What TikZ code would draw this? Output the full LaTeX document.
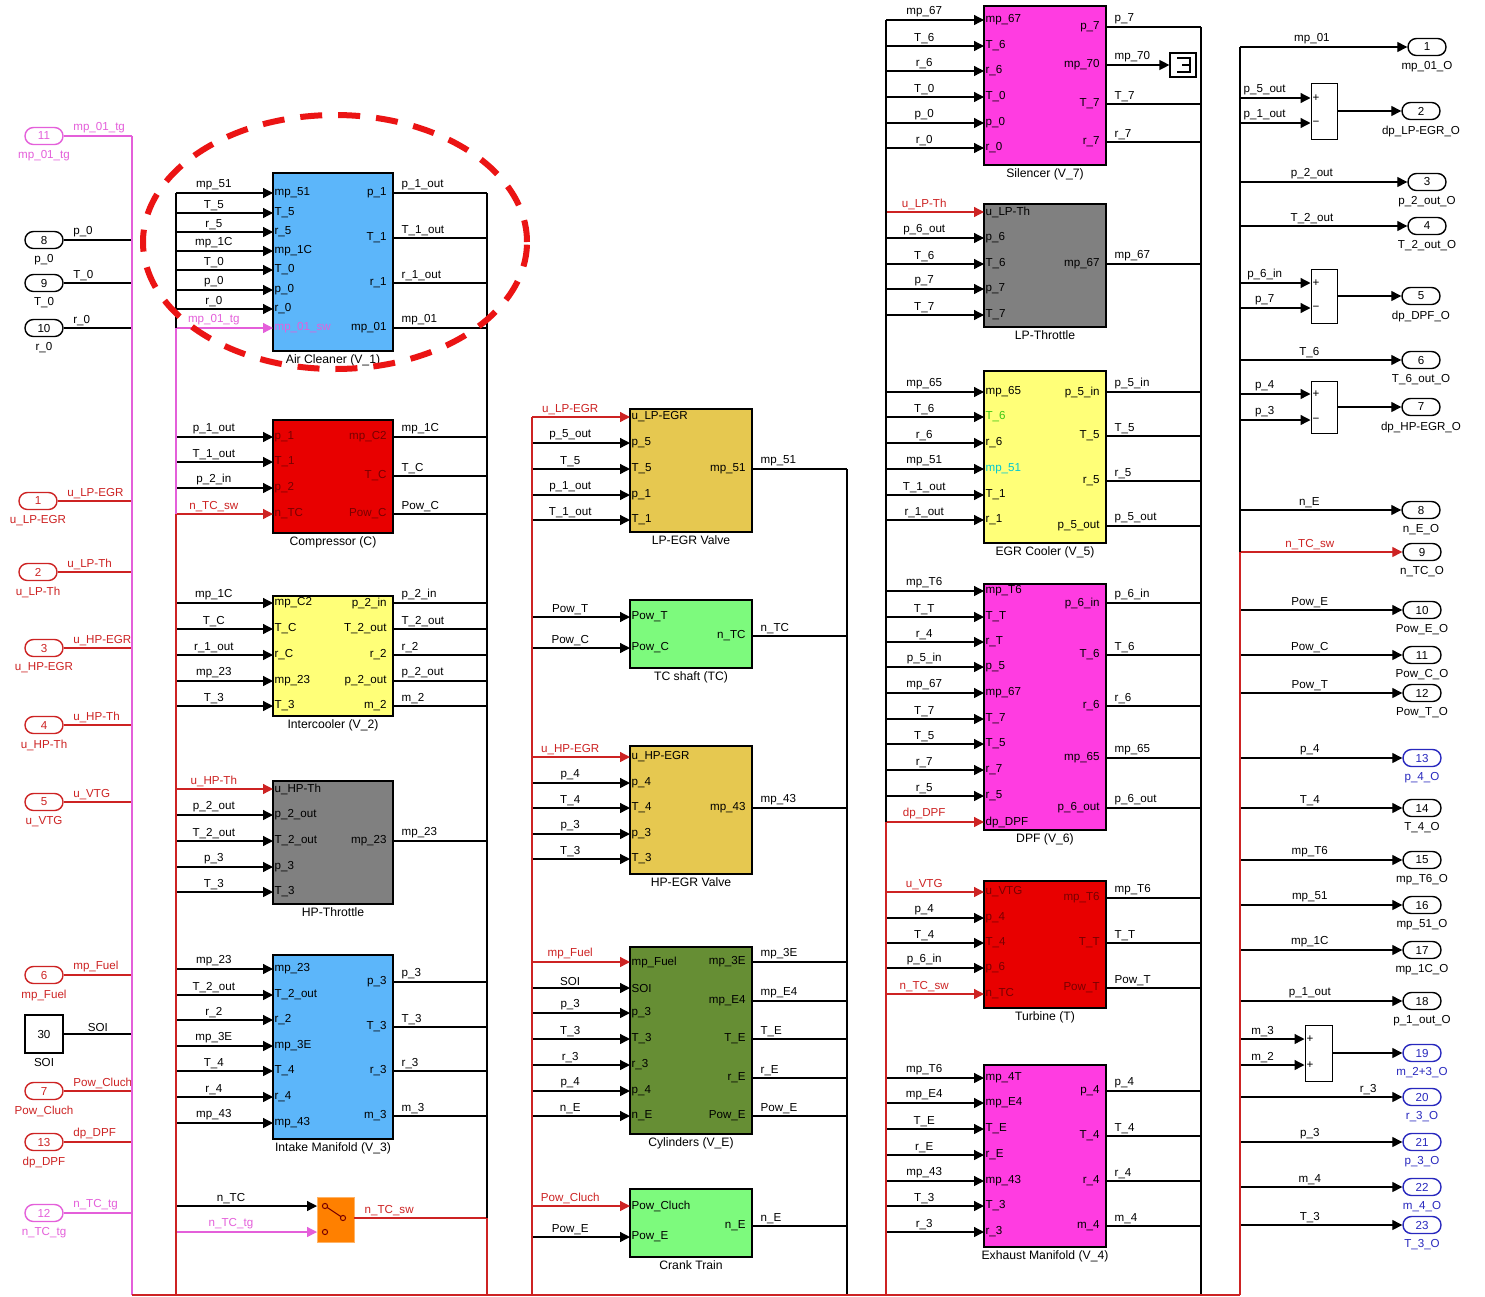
\documentclass[tikz,border=0pt]{standalone}
\usepackage{fontspec}
\setmainfont{Liberation Sans}
\usetikzlibrary{arrows.meta,positioning,fit}
\definecolor{SigRed}{RGB}{205,35,35}
\definecolor{SigPink}{RGB}{228,95,218}
\definecolor{PortBlue}{RGB}{40,40,190}
\definecolor{PinDark}{RGB}{120,0,0}
\definecolor{PinGreen}{RGB}{60,200,20}
\definecolor{PinCyan}{RGB}{0,200,210}
\definecolor{AirBlue}{RGB}{92,182,250}
\definecolor{CompRed}{RGB}{232,0,0}
\definecolor{CoolYellow}{RGB}{255,255,120}
\definecolor{ThrGray}{RGB}{128,128,128}
\definecolor{ValveGold}{RGB}{230,200,80}
\definecolor{ShaftGreen}{RGB}{125,250,125}
\definecolor{CylGreen}{RGB}{102,142,52}
\definecolor{VolMagenta}{RGB}{255,60,225}
\definecolor{SwOrange}{RGB}{255,128,0}
\definecolor{MarkRed}{RGB}{235,20,20}
\newcommand{\sigfont}{\fontsize{5.8}{6.5}\selectfont}
\newcommand{\titlefont}{\fontsize{6.1}{7}\selectfont}
\tikzset{
  blk/.style={draw=black,line width=0.75pt,inner sep=0pt},
  blktitle/.style={font=\titlefont,inner sep=1.3pt},
  constblk/.style={draw=black,fill=white,line width=0.6pt,minimum width=19pt,minimum height=19pt,inner sep=0pt,font=\sigfont},
  sumblk/.style={draw=black,fill=white,line width=0.5pt,inner sep=0pt},
  swblk/.style={draw=SwOrange!60!white,fill=SwOrange,line width=0.5pt,inner sep=0pt},
  sigline/.style={line width=0.65pt,-{Triangle[length=5pt,width=5pt]}},
  plainline/.style={line width=0.65pt,draw=black},
  redline/.style={line width=0.65pt,draw=SigRed},
  pinkline/.style={line width=0.65pt,draw=SigPink},
  siglabel/.style={font=\sigfont,above,inner sep=1pt,pos=0.39},
  outlabel/.style={font=\sigfont,anchor=south west,inner sep=1pt,xshift=3pt,pos=0},
  portlabel/.style={font=\sigfont,anchor=south west,inner sep=1pt,xshift=3.5pt,pos=0},
  pinleft/.style={font=\sigfont,anchor=west,inner sep=0.6pt},
  pinright/.style={font=\sigfont,anchor=east,inner sep=0.5pt,xshift=-2.5pt},
  port/.style={draw,rounded corners=4.2pt,minimum width=19pt,minimum height=8.5pt,inner sep=0pt,font=\sigfont,line width=0.7pt},
  portname/.style={font=\sigfont,inner sep=1pt},
  hilite/.style={draw=MarkRed,line width=3pt,dash pattern=on 11pt off 8pt}
}
% block inputs: bus x, block x, name, {y/pin/label/line colour/pin colour}
\newcommand{\blockin}[4]{%
  \foreach \py/\pn/\pl/\plc/\ppc in {#4} {
    \coordinate (#3-bus-\py) at (#1,\py);
    \coordinate (#3-in-\py) at (#2,\py);
    \draw[sigline,draw=\plc] (#3-bus-\py) -- node[siglabel,text=\plc]{\pl} (#3-in-\py);
    \node[pinleft,text=\ppc] at (#3-in-\py) {\pn};
  }}
% block outputs: block x, bus x, name, {y/pin/label/pin colour}
\newcommand{\blockout}[4]{%
  \foreach \py/\pn/\pl/\ppc in {#4} {
    \coordinate (#3-out-\py) at (#1,\py);
    \coordinate (#3-obus-\py) at (#2,\py);
    \draw[plainline] (#3-out-\py) -- node[outlabel]{\pl} (#3-obus-\py);
    \node[pinright,text=\ppc] at (#3-out-\py) {\pn};
  }}
% inport: name, x, y, number, signal, colour
\newcommand{\inport}[6]{%
  \node[port,draw=#6,text=#6] (#1) at (#2,#3) {#4};
  \node[portname,text=#6,below=1.5pt of #1] {#5};
  \coordinate (#1-bus) at (132,#3);
  \draw[line width=0.65pt,draw=#6] (#1) -- node[portlabel,text=#6]{#5} (#1-bus);
}
\begin{document}
\begin{tikzpicture}[x=0.5pt,y=-0.5pt]
\useasboundingbox (0,0) rectangle (1485,1297);
\fill[white] (0,0) rectangle (1485,1297);

% inports
\inport{in11}{44}{136}{11}{mp\_01\_tg}{SigPink}
\inport{in8}{44}{240}{8}{p\_0}{black}
\inport{in9}{44}{283}{9}{T\_0}{black}
\inport{in10}{44}{328}{10}{r\_0}{black}
\inport{in1}{38}{501}{1}{u\_LP-EGR}{SigRed}
\inport{in2}{38}{572}{2}{u\_LP-Th}{SigRed}
\inport{in3}{44}{648}{3}{u\_HP-EGR}{SigRed}
\inport{in4}{44}{725}{4}{u\_HP-Th}{SigRed}
\inport{in5}{44}{802}{5}{u\_VTG}{SigRed}
\inport{in6}{44}{975}{6}{mp\_Fuel}{SigRed}
\inport{in7}{44}{1091}{7}{Pow\_Cluch}{SigRed}
\inport{in13}{44}{1142}{13}{dp\_DPF}{SigRed}
\inport{in12}{44}{1213}{12}{n\_TC\_tg}{SigPink}
\node[constblk] (soi) at (44,1034) {30};
\node[portname,below=1pt of soi] {SOI};
\coordinate (soi-bus) at (132,1034);
\draw[plainline] (soi) -- node[above,font=\sigfont,inner sep=1pt]{SOI} (soi-bus);

% column 1
\node[blk,fill=AirBlue,fit={(273,173)(393,351)}] (ac) {};
\node[blktitle,below=0pt of ac] {Air Cleaner (V\_1)};
\blockin{176}{273}{ac}{193/mp\_51/mp\_51/black/black, 213/T\_5/T\_5/black/black, 232/r\_5/r\_5/black/black, 251/mp\_1C/mp\_1C/black/black, 270/T\_0/T\_0/black/black, 290/p\_0/p\_0/black/black, 309/r\_0/r\_0/black/black, 328/mp\_01\_sw/mp\_01\_tg/SigPink/SigPink}
\blockout{393}{487}{ac}{193/p\_1/p\_1\_out/black, 238/T\_1/T\_1\_out/black, 283/r\_1/r\_1\_out/black, 328/mp\_01/mp\_01/black}

\node[blk,fill=CompRed,fit={(273,420)(393,533)}] (cp) {};
\node[blktitle,below=0pt of cp] {Compressor (C)};
\blockin{176}{273}{cp}{437/p\_1/p\_1\_out/black/PinDark, 462/T\_1/T\_1\_out/black/PinDark, 488/p\_2/p\_2\_in/black/PinDark, 514/n\_TC/n\_TC\_sw/SigRed/PinDark}
\blockout{393}{487}{cp}{437/mp\_C2/mp\_1C/PinDark, 476/T\_C/T\_C/PinDark, 514/Pow\_C/Pow\_C/PinDark}

\node[blk,fill=CoolYellow,fit={(273,596)(393,716)}] (ic) {};
\node[blktitle,below=0pt of ic] {Intercooler (V\_2)};
\blockin{176}{273}{ic}{603/mp\_C2/mp\_1C/black/black, 629/T\_C/T\_C/black/black, 655/r\_C/r\_1\_out/black/black, 681/mp\_23/mp\_23/black/black, 706/T\_3/T\_3/black/black}
\blockout{393}{487}{ic}{603/p\_2\_in/p\_2\_in/black, 629/T\_2\_out/T\_2\_out/black, 655/r\_2/r\_2/black, 681/p\_2\_out/p\_2\_out/black, 706/m\_2/m\_2/black}

\node[blk,fill=ThrGray,fit={(273,781)(393,904)}] (hpt) {};
\node[blktitle,below=0pt of hpt] {HP-Throttle};
\blockin{176}{273}{hpt}{789/u\_HP-Th/u\_HP-Th/SigRed/black, 815/p\_2\_out/p\_2\_out/black/black, 841/T\_2\_out/T\_2\_out/black/black, 867/p\_3/p\_3/black/black, 892/T\_3/T\_3/black/black}
\blockout{393}{487}{hpt}{841/mp\_23/mp\_23/black}

\node[blk,fill=AirBlue,fit={(273,955)(393,1139)}] (im) {};
\node[blktitle,below=0pt of im] {Intake Manifold (V\_3)};
\blockin{176}{273}{im}{969/mp\_23/mp\_23/black/black, 995/T\_2\_out/T\_2\_out/black/black, 1020/r\_2/r\_2/black/black, 1046/mp\_3E/mp\_3E/black/black, 1071/T\_4/T\_4/black/black, 1097/r\_4/r\_4/black/black, 1123/mp\_43/mp\_43/black/black}
\blockout{393}{487}{im}{982/p\_3/p\_3/black, 1027/T\_3/T\_3/black, 1071/r\_3/r\_3/black, 1116/m\_3/m\_3/black}

% manual switch
\node[swblk,fit={(317,1197)(354,1242)}] (sw) {};
\blockin{176}{317}{sw}{1206/{}/n\_TC/black/black, 1232/{}/n\_TC\_tg/SigPink/black}
\draw[PinDark,line width=0.5pt] (325,1206) -- (343,1218);
\foreach \cx/\cy in {325/1206, 325/1232, 343/1218}
  \draw[PinDark,fill=SwOrange,line width=0.5pt] (\cx,\cy) circle[radius=1.3pt];
\coordinate (sw-out) at (354,1218);
\coordinate (sw-obus) at (487,1218);
\draw[redline] (sw-out) -- node[outlabel,text=SigRed,xshift=1pt]{n\_TC\_sw} (sw-obus);

% column 2
\node[blk,fill=ValveGold,fit={(630,409)(752,532)}] (lpv) {};
\node[blktitle,below=0pt of lpv] {LP-EGR Valve};
\blockin{532}{630}{lpv}{417/u\_LP-EGR/u\_LP-EGR/SigRed/black, 443/p\_5/p\_5\_out/black/black, 469/T\_5/T\_5/black/black, 495/p\_1/p\_1\_out/black/black, 520/T\_1/T\_1\_out/black/black}
\blockout{752}{847}{lpv}{469/mp\_51/mp\_51/black}

\node[blk,fill=ShaftGreen,fit={(630,600)(752,668)}] (tc) {};
\node[blktitle,below=0pt of tc] {TC shaft (TC)};
\blockin{532}{630}{tc}{617/Pow\_T/Pow\_T/black/black, 648/Pow\_C/Pow\_C/black/black}
\blockout{752}{847}{tc}{636/n\_TC/n\_TC/black}

\node[blk,fill=ValveGold,fit={(630,746)(752,874)}] (hpv) {};
\node[blktitle,below=0pt of hpv] {HP-EGR Valve};
\blockin{532}{630}{hpv}{757/u\_HP-EGR/u\_HP-EGR/SigRed/black, 783/p\_4/p\_4/black/black, 808/T\_4/T\_4/black/black, 834/p\_3/p\_3/black/black, 859/T\_3/T\_3/black/black}
\blockout{752}{847}{hpv}{808/mp\_43/mp\_43/black}

\node[blk,fill=CylGreen,fit={(630,947)(752,1134)}] (cyl) {};
\node[blktitle,below=0pt of cyl] {Cylinders (V\_E)};
\blockin{532}{630}{cyl}{962/mp\_Fuel/mp\_Fuel/SigRed/black, 988/SOI/SOI/black/black, 1013/p\_3/p\_3/black/black, 1039/T\_3/T\_3/black/black, 1065/r\_3/r\_3/black/black, 1091/p\_4/p\_4/black/black, 1116/n\_E/n\_E/black/black}
\blockout{752}{847}{cyl}{962/mp\_3E/mp\_3E/black, 1001/mp\_E4/mp\_E4/black, 1039/T\_E/T\_E/black, 1078/r\_E/r\_E/black, 1116/Pow\_E/Pow\_E/black}

\node[blk,fill=ShaftGreen,fit={(630,1189)(752,1257)}] (ct) {};
\node[blktitle,below=0pt of ct] {Crank Train};
\blockin{532}{630}{ct}{1206/Pow\_Cluch/Pow\_Cluch/SigRed/black, 1237/Pow\_E/Pow\_E/black/black}
\blockout{752}{847}{ct}{1226/n\_E/n\_E/black}

% column 3
\node[blk,fill=VolMagenta,fit={(984,6)(1106,165)}] (sil) {};
\node[blktitle,below=0pt of sil] {Silencer (V\_7)};
\blockin{886}{984}{sil}{20/mp\_67/mp\_67/black/black, 46/T\_6/T\_6/black/black, 71/r\_6/r\_6/black/black, 97/T\_0/T\_0/black/black, 123/p\_0/p\_0/black/black, 148/r\_0/r\_0/black/black}
\blockout{1106}{1201}{sil}{27/p\_7/p\_7/black, 104/T\_7/T\_7/black, 142/r\_7/r\_7/black}
\node[blk,fill=white,line width=0.6pt,fit={(1170,53)(1196,77)}] (term) {};
\draw[line width=0.6pt] (1177,58) -- (1190,58) -- (1190,72) -- (1177,72) (1182,65) -- (1190,65);
\coordinate (sil-out-65) at (1106,65);
\draw[sigline] (sil-out-65) -- node[outlabel]{mp\_70} (term);
\node[pinright] at (sil-out-65) {mp\_70};

\node[blk,fill=ThrGray,fit={(984,204)(1106,327)}] (lpt) {};
\node[blktitle,below=0pt of lpt] {LP-Throttle};
\blockin{886}{984}{lpt}{212/u\_LP-Th/u\_LP-Th/SigRed/black, 238/p\_6/p\_6\_out/black/black, 264/T\_6/T\_6/black/black, 289/p\_7/p\_7/black/black, 315/T\_7/T\_7/black/black}
\blockout{1106}{1201}{lpt}{264/mp\_67/mp\_67/black}

\node[blk,fill=CoolYellow,fit={(984,371)(1106,543)}] (egc) {};
\node[blktitle,below=0pt of egc] {EGR Cooler (V\_5)};
\blockin{886}{984}{egc}{392/mp\_65/mp\_65/black/black, 417/T\_6/T\_6/black/PinGreen, 443/r\_6/r\_6/black/black, 469/mp\_51/mp\_51/black/PinCyan, 495/T\_1/T\_1\_out/black/black, 520/r\_1/r\_1\_out/black/black}
\blockout{1106}{1201}{egc}{392/p\_5\_in/p\_5\_in/black, 436/T\_5/T\_5/black, 481/r\_5/r\_5/black, 526/p\_5\_out/p\_5\_out/black}

\node[blk,fill=VolMagenta,fit={(984,584)(1106,830)}] (dpf) {};
\node[blktitle,below=0pt of dpf] {DPF (V\_6)};
\blockin{886}{984}{dpf}{591/mp\_T6/mp\_T6/black/black, 617/T\_T/T\_T/black/black, 642/r\_T/r\_4/black/black, 667/p\_5/p\_5\_in/black/black, 693/mp\_67/mp\_67/black/black, 719/T\_7/T\_7/black/black, 744/T\_5/T\_5/black/black, 770/r\_7/r\_7/black/black, 796/r\_5/r\_5/black/black, 822/dp\_DPF/dp\_DPF/SigRed/black}
\blockout{1106}{1201}{dpf}{603/p\_6\_in/p\_6\_in/black, 655/T\_6/T\_6/black, 706/r\_6/r\_6/black, 758/mp\_65/mp\_65/black, 808/p\_6\_out/p\_6\_out/black}

\node[blk,fill=CompRed,fit={(984,881)(1106,1008)}] (tur) {};
\node[blktitle,below=0pt of tur] {Turbine (T)};
\blockin{886}{984}{tur}{892/u\_VTG/u\_VTG/SigRed/PinDark, 918/p\_4/p\_4/black/PinDark, 943/T\_4/T\_4/black/PinDark, 968/p\_6/p\_6\_in/black/PinDark, 994/n\_TC/n\_TC\_sw/SigRed/PinDark}
\blockout{1106}{1201}{tur}{898/mp\_T6/mp\_T6/PinDark, 943/T\_T/T\_T/PinDark, 988/Pow\_T/Pow\_T/PinDark}

\node[blk,fill=VolMagenta,fit={(984,1065)(1106,1247)}] (em) {};
\node[blktitle,below=0pt of em] {Exhaust Manifold (V\_4)};
\blockin{886}{984}{em}{1078/mp\_4T/mp\_T6/black/black, 1103/mp\_E4/mp\_E4/black/black, 1129/T\_E/T\_E/black/black, 1155/r\_E/r\_E/black/black, 1181/mp\_43/mp\_43/black/black, 1206/T\_3/T\_3/black/black, 1232/r\_3/r\_3/black/black}
\blockout{1106}{1201}{em}{1091/p\_4/p\_4/black, 1136/T\_4/T\_4/black, 1181/r\_4/r\_4/black, 1226/m\_4/m\_4/black}

% outports
\foreach \nn/\xx/\yy/\pname/\pcol in {1/1427/47/mp\_01\_O/black, 2/1421/111/dp\_LP-EGR\_O/black, 3/1427/182/p\_2\_out\_O/black, 4/1427/226/T\_2\_out\_O/black, 5/1421/296/dp\_DPF\_O/black, 6/1421/360/T\_6\_out\_O/black, 7/1421/407/dp\_HP-EGR\_O/black, 8/1421/510/n\_E\_O/black, 9/1422/552/n\_TC\_O/black, 10/1422/610/Pow\_E\_O/black, 11/1422/655/Pow\_C\_O/black, 12/1422/693/Pow\_T\_O/black, 13/1422/758/p\_4\_O/PortBlue, 14/1422/808/T\_4\_O/black, 15/1422/860/mp\_T6\_O/black, 16/1422/905/mp\_51\_O/black, 17/1422/950/mp\_1C\_O/black, 18/1422/1001/p\_1\_out\_O/black, 19/1422/1053/m\_2+3\_O/PortBlue, 20/1422/1097/r\_3\_O/PortBlue, 21/1422/1142/p\_3\_O/PortBlue, 22/1422/1187/m\_4\_O/PortBlue, 23/1422/1225/T\_3\_O/PortBlue}
{
  \node[port,draw=\pcol,text=\pcol] (out\nn) at (\xx,\yy) {\nn};
  \node[portname,text=\pcol,below=1.5pt of out\nn] {\pname};
}
\foreach \nn/\yy/\lab/\lcol in {1/47/mp\_01/black, 3/182/p\_2\_out/black, 4/226/T\_2\_out/black, 6/360/T\_6/black, 8/510/n\_E/black, 9/552/n\_TC\_sw/SigRed, 10/610/Pow\_E/black, 11/655/Pow\_C/black, 12/693/Pow\_T/black, 13/758/p\_4/black, 14/808/T\_4/black, 15/860/mp\_T6/black, 16/905/mp\_51/black, 17/950/mp\_1C/black, 18/1001/p\_1\_out/black, 21/1142/p\_3/black, 22/1187/m\_4/black, 23/1225/T\_3/black}
{
  \coordinate (obus-\nn) at (1240,\yy);
  \draw[sigline,draw=\lcol] (obus-\nn) -- node[siglabel,pos=0.43,text=\lcol]{\lab} (out\nn);
}
\coordinate (obus-20) at (1240,1097);
\draw[sigline] (obus-20) -- node[siglabel,pos=0.79]{r\_3} (out20);

% sums
\node[sumblk,fit={(1311,83)(1337,139)}] (sum1) {};
\node[sumblk,fit={(1311,269)(1337,323)}] (sum2) {};
\node[sumblk,fit={(1311,381)(1337,433)}] (sum3) {};
\node[sumblk,fit={(1305,1025)(1332,1081)}] (sum4) {};
\foreach \s/\yy/\sg/\lab in {sum1/98/+/p\_5\_out, sum1/123/−/p\_1\_out, sum2/283/+/p\_6\_in, sum2/308/−/p\_7, sum3/394/+/p\_4, sum3/420/−/p\_3, sum4/1039/+/m\_3, sum4/1065/+/m\_2}
{
  \coordinate (\s-bus-\yy) at (1240,\yy);
  \draw[sigline] (\s-bus-\yy) -- node[siglabel,pos=0.35]{\lab} (\s.west |- \s-bus-\yy);
  \node[font=\sigfont,anchor=west,inner sep=0.8pt] at (\s.west |- \s-bus-\yy) {\sg};
}
\draw[sigline] (sum1) -- (out2);
\draw[sigline] (sum2) -- (out5);
\draw[sigline] (sum3) -- (out7);
\draw[sigline] (sum4) -- (out19);

% buses
\coordinate (botA) at (132,1295);
\coordinate (botB) at (176,1295);
\coordinate (botC) at (487,1295);
\coordinate (botD) at (532,1295);
\coordinate (botE) at (847,1295);
\coordinate (botF) at (886,1295);
\coordinate (botG) at (1201,1295);
\coordinate (botH) at (1240,1295);
\draw[pinkline] (in11-bus) -- (botA);
\draw[plainline] (ac-bus-193) -- (ac-bus-328);
\draw[pinkline] (ac-bus-328) -- (cp-bus-514);
\draw[redline] (cp-bus-514) -- (botB);
\draw[plainline] (ac-obus-193) -- (sw-obus);
\draw[redline] (sw-obus) -- (botC);
\draw[redline] (lpv-bus-417) -- (botD);
\draw[plainline] (lpv-obus-469) -- (botE);
\draw[plainline] (sil-bus-20) -- (dpf-bus-822);
\draw[redline] (dpf-bus-822) -- (botF);
\draw[plainline] (sil-obus-27) -- (botG);
\draw[plainline] (obus-1) -- (obus-9);
\draw[redline] (obus-9) -- (botH);
\draw[redline] (botA) -- (botH);

% highlight
\draw[hilite] (335,242) ellipse [x radius=96pt,y radius=63.5pt];
\end{tikzpicture}
\end{document}
